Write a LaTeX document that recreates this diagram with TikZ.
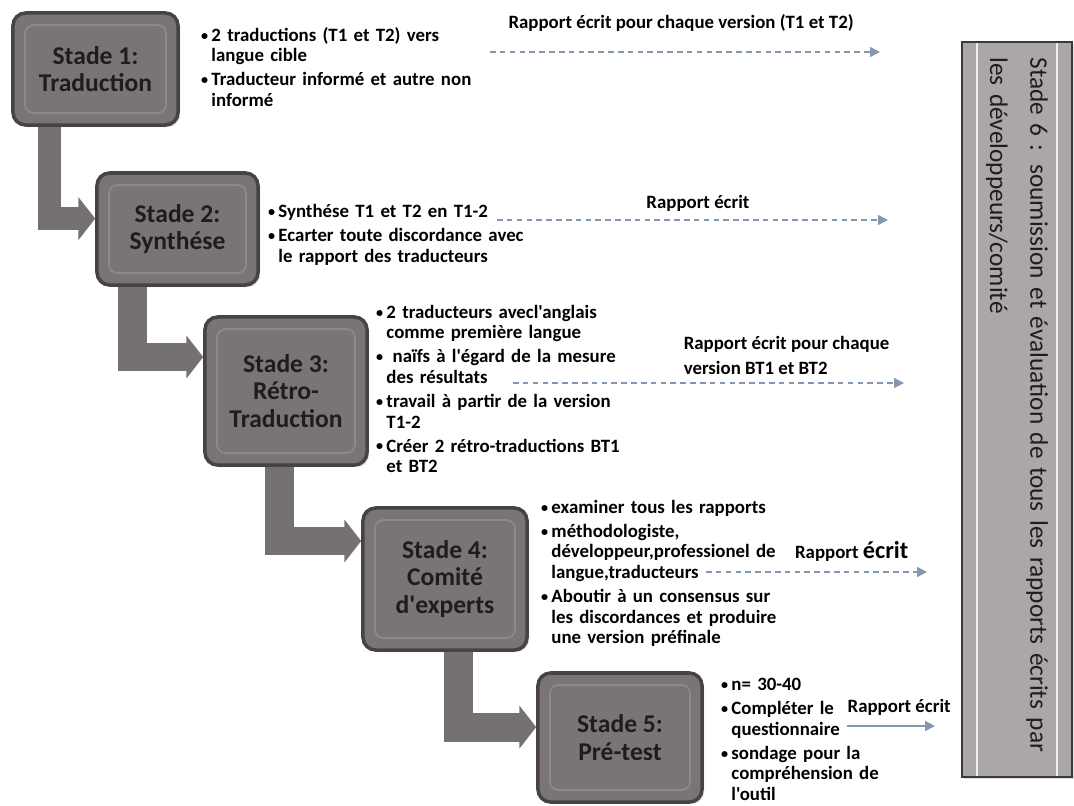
\documentclass[tikz,border=0pt]{standalone}
\usepackage{fontspec}
\usepackage{graphicx}
\setmainfont{Carlito}[Ligatures=TeXOff]
\usetikzlibrary{positioning,arrows.meta,shadows}

\definecolor{boxgray}{HTML}{7A7574}
\definecolor{boxedge}{HTML}{474343}
\definecolor{bevel}{HTML}{8E8989}
\definecolor{bargray}{HTML}{767171}
\definecolor{panelgray}{HTML}{ABA7A7}
\definecolor{paneledge}{HTML}{3A3838}
\definecolor{dashblue}{HTML}{8497B0}
\definecolor{textdark}{HTML}{1E1C1C}

\newcommand{\puce}[1]{\par\raggedright\hangindent=0.26cm\hangafter=1\noindent\makebox[0.26cm][l]{\raisebox{0.8pt}{\scalebox{0.75}{\textbullet}}}#1\par}

\begin{document}
\begin{tikzpicture}[x=0.025cm, y=-0.025cm,
                    stade/.style={rectangle, draw=boxedge, line width=2.5pt, fill=boxgray, rounded corners=9pt,
                                  align=center, text=textdark, font=\bfseries\fontsize{18.2}{19.5}\selectfont,
                                  drop shadow={opacity=0.3, shadow xshift=1.5pt, shadow yshift=-1.5pt},
                                  path picture={\draw[bevel, line width=1.2pt, rounded corners=6pt]
                                    ([shift={(0.3cm,0.3cm)}]path picture bounding box.south west) rectangle
                                    ([shift={(-0.3cm,-0.3cm)}]path picture bounding box.north east);}},
                    panneau/.style={rectangle, draw=paneledge, line width=1.6pt, fill=panelgray,
                                    text=textdark, text width=17.6cm,
                                    font=\fontsize{18}{28.5}\selectfont,
                                    drop shadow={opacity=0.25, shadow xshift=1.5pt, shadow yshift=-1.5pt},
                                    path picture={\draw[white!80!panelgray, line width=1.5pt]
                                      ([shift={(0.37cm,0.37cm)}]path picture bounding box.south west) rectangle
                                      ([shift={(-0.37cm,-0.37cm)}]path picture bounding box.north east);}},
                    puces/.style={anchor=north west, inner sep=0pt, text width=8cm,
                                  font=\bfseries\fontsize{13.4}{14.6}\selectfont\setlength{\parskip}{2.5pt}},
                    coude/.style={draw=bargray, line width=#1, -{Triangle[width=1.05cm, length=0.42cm]}},
                    rapport/.style={draw=dashblue, line width=1pt, dash pattern=on 4pt off 3pt,
                                    -{Triangle[width=7pt, length=7pt]}},
                    lbl/.style={font=\bfseries\fontsize{13.4}{17.8}\selectfont, inner sep=0pt, align=left}]
  \useasboundingbox (0,0) rectangle (1074,805);

  \node[stade, minimum width=4.125cm, minimum height=2.8cm] (s1) at (95.5,69) {Stade 1:\\Traduction};
  \node[stade, minimum width=4.025cm, minimum height=2.8cm] (s2) at (177.5,229) {Stade 2:\\Synthése};
  \node[stade, minimum width=4.05cm, minimum height=3.7cm] (s3) at (286,391) {Stade 3:\\Rétro-\\Traduction};
  \node[stade, minimum width=4.1cm, minimum height=3.55cm] (s4) at (445,579) {Stade 4:\\Comité\\d'experts};
  \node[stade, minimum width=4.1cm, minimum height=3.225cm] (s5) at (620,737.5) {Stade 5:\\Pré-test};
  \node[panneau, rotate=-90, minimum width=18.375cm, minimum height=2.75cm] (s6) at (1017,409.5)
       {\raggedright Stade 6 : soumission et évaluation de tous les rapports écrits par\\les développeurs/comité};

  \draw[coude=0.58cm] ([xshift=0.95cm]s1.south west) |- ([yshift=0.26cm]s2.west);
  \draw[coude=0.72cm] ([xshift=0.93cm]s2.south west) |- ([yshift=0.85cm]s3.west);
  \draw[coude=0.72cm] ([xshift=1.9cm]s3.south west) |- ([yshift=0.95cm]s4.west);
  \draw[coude=0.72cm] ([xshift=2.43cm]s4.south west) |- ([yshift=0.26cm]s5.west);

  \node[puces] (t1) at ([xshift=0.525cm, yshift=-0.14cm]s1.north east)
       {\puce{2 traductions (T1 et T2) vers\newline langue cible}
        \puce{Traducteur informé et autre non\newline informé}};
  \node[puces] (t2) at ([xshift=0.2cm, yshift=-0.55cm]s2.north east)
       {\puce{Synthése T1 et T2 en T1-2}
        \puce{Ecarter toute discordance avec\newline le rapport des traducteurs}};
  \node[puces] (t3) at ([xshift=0.175cm, yshift=0.53cm]s3.north east)
       {\puce{2 traducteurs avecl'anglais\newline comme première langue}
        \puce{\ naïfs à l'égard de la mesure\newline des résultats}
        \puce{travail à partir de la version\newline T1-2}
        \puce{Créer 2 rétro-traductions BT1\newline et BT2}};
  \node[puces] (t4) at ([xshift=0.3cm, yshift=0.43cm]s4.north east)
       {\puce{examiner tous les rapports}
        \puce{méthodologiste,\newline développeur,professionel de\newline langue,traducteurs}
        \puce{Aboutir à un consensus sur\newline les discordances et produire\newline une version préfinale}};
  \node[puces] (t5) at ([xshift=0.425cm, yshift=0.12cm]s5.north east)
       {\puce{n= 30-40}
        \puce{Compléter le\newline questionnaire}
        \puce{sondage pour la\newline compréhension de\newline l'outil}};

  \coordinate (d1) at (490,52);  \coordinate (f1) at (880,52);
  \coordinate (d2) at (497,220); \coordinate (f2) at (888,220);
  \coordinate (d3) at (513,383); \coordinate (f3) at (904,383);
  \coordinate (d4) at (706,572); \coordinate (f4) at (927,572);
  \coordinate (d5) at (847,726); \coordinate (f5) at (935,726);

  \draw[rapport] (d1) -- node[lbl, pos=0.49, above=0.5cm] (r1) {Rapport écrit pour chaque version (T1 et T2)} (f1);
  \draw[rapport] (d2) -- node[lbl, pos=0.514, above=0.2cm] (r2) {Rapport écrit} (f2);
  \draw[rapport] (d3) -- node[lbl, pos=0.435, anchor=south west, yshift=0.2cm] (r3) {Rapport écrit pour chaque\\version BT1 et BT2} (f3);
  \draw[rapport] (d4) -- node[lbl, pos=0.4, anchor=south west, yshift=0.25cm] (r4) {Rapport {\fontsize{17.3}{18}\selectfont écrit}} (f4);
  \draw[rapport, solid] (d5) -- node[lbl, pos=0, anchor=south west, yshift=0.25cm] (r5) {Rapport écrit} (f5);
\end{tikzpicture}
\end{document}
